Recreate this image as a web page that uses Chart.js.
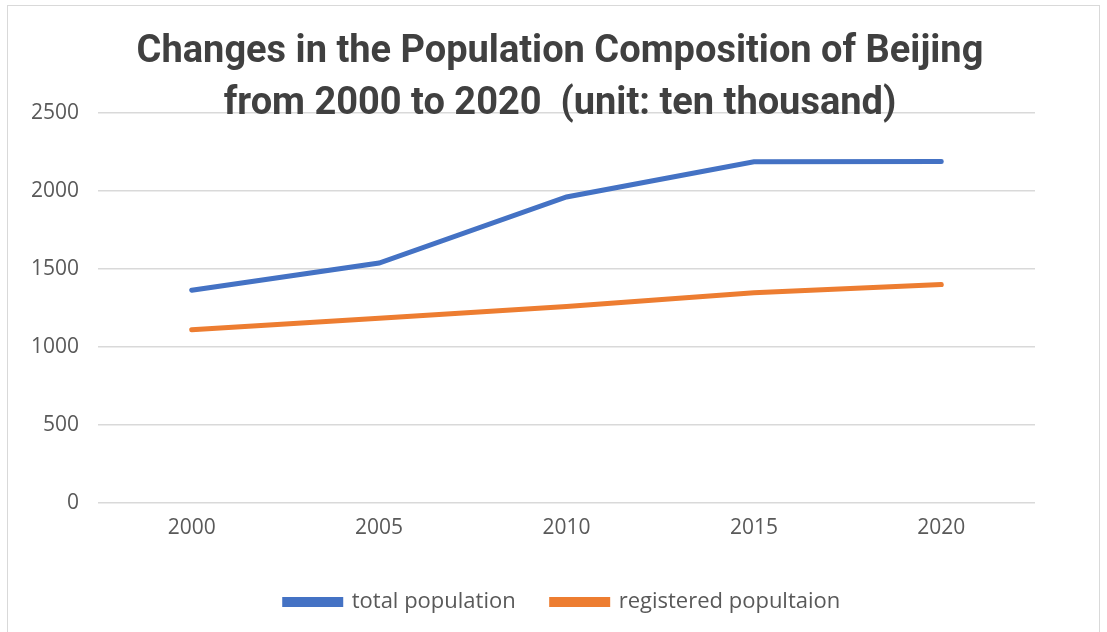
<!DOCTYPE html>
<html lang="en">
<head>
    <meta charset="UTF-8">
    <title>Changes in the Population Composition of Beijing</title>
    <script src="https://cdn.jsdelivr.net/npm/chart.js"></script>
    <style>
        html, body { margin: 0; padding: 0; background: #fff; }
        #wrap { position: relative; width: 1107px; height: 632px; overflow: hidden; }
        #frame { position: absolute; left: 7px; top: 5px; width: 1093px; height: 640px; border: 1px solid #d9d9d9; box-sizing: border-box; }
        #title { position: absolute; left: 0; top: 23px; width: 1120px; text-align: center;
                 font-family: "Roboto", sans-serif; font-weight: bold;
                 font-size: 38px; line-height: 52px; color: #404040; z-index: 2; }
        canvas { position: absolute; left: 0; top: 0; }
    </style>
</head>
<body>
<div id="wrap">
    <div id="frame"></div>
    <canvas id="popChart" width="1107" height="632"></canvas>
    <div id="title">Changes in the Population Composition of Beijing<br>from 2000 to 2020&nbsp; (unit: ten thousand)</div>
</div>
<script>
    const years = ['2000', '2005', '2010', '2015', '2020'];
    const totalPopulation = [1364, 1538, 1962, 2188, 2189];
    const registeredPopulation = [1110, 1185, 1260, 1347, 1400];

    const tickFont = { family: '"Open Sans", sans-serif', size: 21 };

    // legend sits centred on the whole frame, not just the plot width
    const shiftLegend = {
        id: 'shiftLegend',
        afterLayout(chart) {
            const lg = chart.legend;
            if (lg) { lg.left += 45; lg.right += 45; }
        }
    };

    const ctx = document.getElementById('popChart').getContext('2d');
    new Chart(ctx, {
        type: 'line',
        data: {
            labels: years,
            datasets: [
                {
                    label: 'total population',
                    data: totalPopulation,
                    borderColor: '#4472C4',
                    backgroundColor: '#4472C4',
                    borderWidth: 5,
                    borderCapStyle: 'round',
                    pointRadius: 0,
                    tension: 0
                },
                {
                    label: 'registered popultaion',
                    data: registeredPopulation,
                    borderColor: '#ED7D31',
                    backgroundColor: '#ED7D31',
                    borderWidth: 5,
                    borderCapStyle: 'round',
                    pointRadius: 0,
                    tension: 0
                }
            ]
        },
        options: {
            responsive: false,
            animation: false,
            layout: { padding: { top: 113, right: 72, bottom: 9, left: 0 } },
            plugins: {
                title: { display: false },
                tooltip: { enabled: false },
                legend: {
                    position: 'bottom',
                    labels: {
                        boxWidth: 56,
                        boxHeight: 5,
                        padding: 36,
                        color: '#595959',
                        font: { family: '"Open Sans", sans-serif', size: 22 }
                    }
                }
            },
            scales: {
                x: {
                    offset: true,
                    grid: { display: false, drawTicks: false },
                    border: { display: false },
                    ticks: { padding: 12, color: '#595959', font: tickFont },
                    afterFit: scale => { scale.height = 52; }
                },
                y: {
                    min: 0,
                    max: 2500,
                    ticks: {
                        stepSize: 500,
                        padding: 19,
                        color: '#595959',
                        font: tickFont,
                        callback: v => String(v)
                    },
                    grid: { color: '#d9d9d9', lineWidth: 1.5, drawTicks: false },
                    border: { display: false },
                    afterFit: scale => { scale.width = 98; }
                }
            }
        },
        plugins: [shiftLegend]
    });
</script>
</body>
</html>
